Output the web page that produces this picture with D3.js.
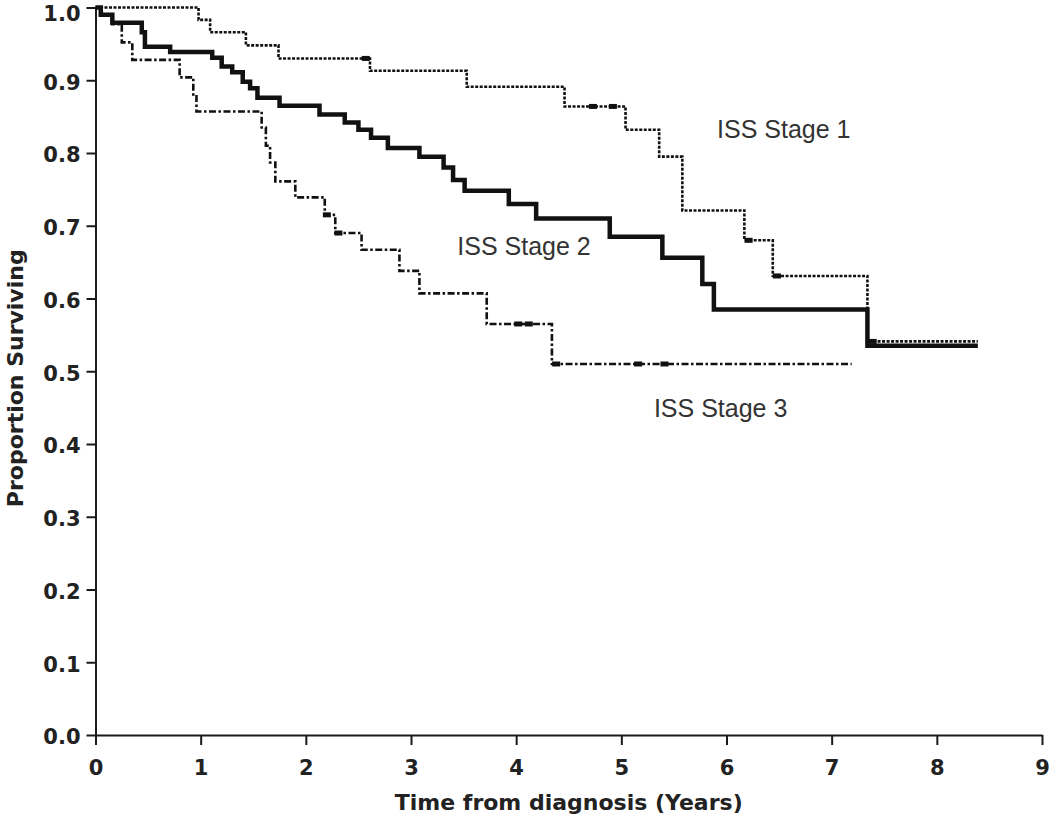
<!DOCTYPE html>
<html>
<head>
<meta charset="utf-8">
<script src="https://cdn.jsdelivr.net/npm/d3@7/dist/d3.min.js"></script>
<style>
  html, body { margin: 0; padding: 0; background: #fff; }
  svg { display: block; }
  .tick text { font-family: "DejaVu Sans", Verdana, sans-serif; font-weight: bold; }
</style>
</head>
<body>
<div id="chart"></div>
<script>
// Kaplan-Meier steps (time in years, proportion surviving)
const stage1Times = [0, 0.98, 1.09, 1.43, 1.74, 2.61, 3.53, 4.46, 5.04, 5.36, 5.58, 6.17, 6.44, 7.34];
const stage1Surv = [1.0, 0.983, 0.966, 0.948, 0.930, 0.913, 0.891, 0.864, 0.832, 0.795, 0.721, 0.680, 0.631, 0.541];
const stage1End = 8.39;
const stage1Censor = [2.57, 4.73, 4.92, 6.21, 6.48, 7.39];

const stage2Times = [0, 0.05, 0.16, 0.44, 0.47, 0.71, 1.11, 1.20, 1.30, 1.40, 1.47, 1.54, 1.75, 2.13, 2.37,
  2.50, 2.62, 2.78, 3.08, 3.31, 3.40, 3.51, 3.93, 4.19, 4.89, 5.39, 5.77, 5.88, 7.34];
const stage2Surv = [1.0, 0.990, 0.979, 0.966, 0.946, 0.939, 0.931, 0.919, 0.911, 0.898, 0.889, 0.876, 0.865, 0.853, 0.842,
  0.832, 0.821, 0.807, 0.795, 0.780, 0.763, 0.748, 0.730, 0.710, 0.685, 0.656, 0.620, 0.585, 0.535];
const stage2End = 8.39;

const stage3Times = [0, 0.06, 0.16, 0.25, 0.35, 0.80, 0.93, 0.96, 1.58, 1.62, 1.66, 1.71, 1.90, 2.18, 2.28, 2.53, 2.89, 3.08, 3.72, 4.34];
const stage3Surv = [1.0, 0.990, 0.977, 0.952, 0.928, 0.904, 0.878, 0.857, 0.835, 0.810, 0.787, 0.761, 0.739, 0.715, 0.690, 0.667, 0.638, 0.607, 0.565, 0.510];
const stage3End = 7.19;
const stage3Censor = [2.20, 2.31, 4.02, 4.12, 4.38, 5.16, 5.41];

const xTicks = [0, 1, 2, 3, 4, 5, 6, 7, 8, 9];
const yTicks = [0, 0.1, 0.2, 0.3, 0.4, 0.5, 0.6, 0.7, 0.8, 0.9, 1.0];

const stageLabels = ['ISS Stage 1', 'ISS Stage 2', 'ISS Stage 3'];
const labelAnchorT = [5.91, 3.44, 5.31];
const labelAnchorP = [0.820, 0.660, 0.437];

const width = 1050;
const height = 816;

const x = d3.scaleLinear().domain([0, 9]).range([95.5, 1042]);
const y = d3.scaleLinear().domain([0, 1]).range([735, 7.5]);

const svg = d3.select('#chart').append('svg')
  .attr('width', width)
  .attr('height', height)
  .attr('viewBox', [0, 0, width, height]);

function toSteps(times, surv, end) {
  const pts = times.map((t, i) => ({ t, s: surv[i] }));
  pts.push({ t: end, s: surv[surv.length - 1] });
  return pts;
}

// value of a step function at time t
function survAt(times, surv, t) {
  let s = surv[0];
  times.forEach((tt, i) => { if (tt <= t) s = surv[i]; });
  return s;
}

const line = d3.line()
  .x((d) => x(d.t))
  .y((d) => y(d.s))
  .curve(d3.curveStepAfter);

// axes
const axisColor = '#1a1a1a';
const yAxis = svg.append('g')
  .attr('transform', `translate(${x(0)},0)`)
  .call(d3.axisLeft(y).tickValues(yTicks).tickFormat(d3.format('.1f')).tickSize(9).tickSizeOuter(0).tickPadding(6));
yAxis.selectAll('text')
  .style('font-size', '21px')
  .attr('fill', '#222')
  // top label sits a little low in the original, clear of the edge
  .attr('dy', (d) => (d === 1 ? '0.6em' : '0.42em'));
yAxis.selectAll('line, path').attr('stroke', axisColor).attr('stroke-width', 2);

const xAxis = svg.append('g')
  .attr('transform', `translate(0,${y(0)})`)
  .call(d3.axisBottom(x).tickValues(xTicks).tickFormat(d3.format('d')).tickSize(10).tickSizeOuter(0).tickPadding(15));
xAxis.selectAll('text').style('font-size', '21px').attr('fill', '#222');
xAxis.selectAll('line, path').attr('stroke', axisColor).attr('stroke-width', 2);

svg.append('text')
  .attr('x', (x(0) + x(9)) / 2)
  .attr('y', 810)
  .attr('text-anchor', 'middle')
  .style('font-family', '"DejaVu Sans", Verdana, sans-serif')
  .style('font-weight', 'bold')
  .style('font-size', '22px')
  .attr('fill', '#222')
  .text('Time from diagnosis (Years)');

svg.append('text')
  .attr('transform', `translate(23,${(y(0) + y(1)) / 2 + 7}) rotate(-90)`)
  .attr('text-anchor', 'middle')
  .style('font-family', '"DejaVu Sans", Verdana, sans-serif')
  .style('font-weight', 'bold')
  .style('font-size', '22px')
  .attr('fill', '#222')
  .text('Proportion Surviving');

// curves
const series = [
  { pts: toSteps(stage1Times, stage1Surv, stage1End), dash: '3,1.5', w: 2.6 },
  { pts: toSteps(stage3Times, stage3Surv, stage3End), dash: '7,2.5,2.5,2.5', w: 2.6 },
  { pts: toSteps(stage2Times, stage2Surv, stage2End), dash: null, w: 4.5 },
];

svg.append('g').selectAll('path')
  .data(series)
  .join('path')
  .attr('d', (d) => line(d.pts))
  .attr('fill', 'none')
  .attr('stroke', '#111')
  .attr('stroke-width', (d) => d.w)
  .attr('stroke-dasharray', (d) => d.dash);

// censor marks
const censors = [
  ...stage1Censor.map((t) => ({ t, s: survAt(stage1Times, stage1Surv, t) })),
  ...stage3Censor.map((t) => ({ t, s: survAt(stage3Times, stage3Surv, t) })),
];
svg.append('g').selectAll('rect')
  .data(censors)
  .join('rect')
  .attr('x', (d) => x(d.t) - 4)
  .attr('y', (d) => y(d.s) - 2.5)
  .attr('width', 8)
  .attr('height', 5)
  .attr('fill', '#111');

// stage labels
svg.append('g').selectAll('text')
  .data(stageLabels)
  .join('text')
  .attr('x', (d, i) => x(labelAnchorT[i]))
  .attr('y', (d, i) => y(labelAnchorP[i]))
  .style('font-family', '"Liberation Sans", Arial, Helvetica, sans-serif')
  .style('font-size', '25px')
  .attr('fill', '#333')
  .text((d) => d);
</script>
</body>
</html>
